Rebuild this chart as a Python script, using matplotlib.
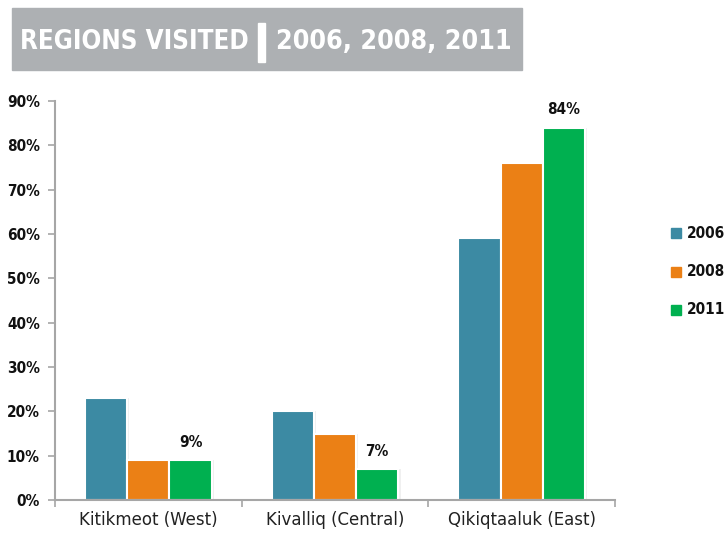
import numpy as np
import matplotlib
matplotlib.use("Agg")
import matplotlib.pyplot as plt
from matplotlib.patches import Rectangle

regions = ["Kitikmeot (West)", "Kivalliq (Central)", "Qikiqtaaluk (East)"]
years = ["2006", "2008", "2011"]
v2006 = [23, 20, 59]
v2008 = [9, 15, 76]
v2011 = [9, 7, 84]
colors = ["#3C8AA3", "#EB8015", "#00B050"]
yticks = [0, 10, 20, 30, 40, 50, 60, 70, 80, 90]

fig = plt.figure(figsize=(7.25, 5.35), dpi=100)
ax = fig.add_axes([55/725, 1-500/535, 560/725, 399/535])

x = np.arange(len(regions))
w = 0.226
series = [v2006, v2008, v2011]
for i, (vals, c) in enumerate(zip(series, colors)):
    pos = x + (i - 1) * w
    # soft shadow
    ax.bar(pos + 0.012, vals, w, color="#000000", alpha=0.06, zorder=1)
    ax.bar(pos, vals, w, color=c, edgecolor="white", linewidth=1.5, label=years[i], zorder=2)

# labels on the 2011 bars
for xi, v in zip(x, v2011):
    ax.text(xi + w, v + 2.3, f"{v}%", ha="center", va="bottom",
            fontsize=11, fontweight="bold", fontstretch="condensed", color="#111111")

ax.set_xlim(-0.5, 2.5)
ax.set_ylim(0, 90)
ax.set_yticks(yticks)
ax.set_yticklabels([f"{t}%" for t in yticks], fontsize=11, fontweight="bold",
                   fontstretch="condensed", color="#111111")
ax.set_xticks(x)
ax.set_xticklabels(regions, fontsize=12, color="#222222")
ax.tick_params(axis="x", length=0, pad=8)
ax.tick_params(axis="y", length=5, color="#A6A6A6", width=1.2, pad=6)
ax.set_xticks([-0.5, 0.5, 1.5, 2.5], minor=True)
ax.tick_params(axis="x", which="minor", length=5, color="#A6A6A6", width=1.2)
for s in ["top", "right"]:
    ax.spines[s].set_visible(False)
for s in ["left", "bottom"]:
    ax.spines[s].set_color("#A6A6A6")
    ax.spines[s].set_linewidth(1.5)

# legend
for i, (yr, c) in enumerate(zip(years, colors)):
    yy = 1 - (233 + i * 38.5) / 535
    fig.patches.append(Rectangle((671/725, yy - 5/535), 10/725, 10/535,
                                 transform=fig.transFigure, color=c))
    fig.text(687/725, yy, yr, fontsize=11, fontweight="bold", fontstretch="condensed",
             va="center", ha="left", color="#111111")

# title banner
fig.patches.append(Rectangle((12/725, 1-70/535), 510/725, 62/535,
                             transform=fig.transFigure, color="#ADB0B3"))
fig.text(20/725, 1-42/535, "REGIONS VISITED", fontsize=18.6, fontweight="bold",
         fontstretch="condensed", color="white", va="center", ha="left")
fig.patches.append(Rectangle((258/725, 1-62/535), 7/725, 39/535,
                             transform=fig.transFigure, color="white"))
fig.text(276/725, 1-42/535, "2006, 2008, 2011", fontsize=19.3, fontweight="bold",
         fontstretch="condensed", color="white", va="center", ha="left")

fig.savefig("out.png", dpi=100)
